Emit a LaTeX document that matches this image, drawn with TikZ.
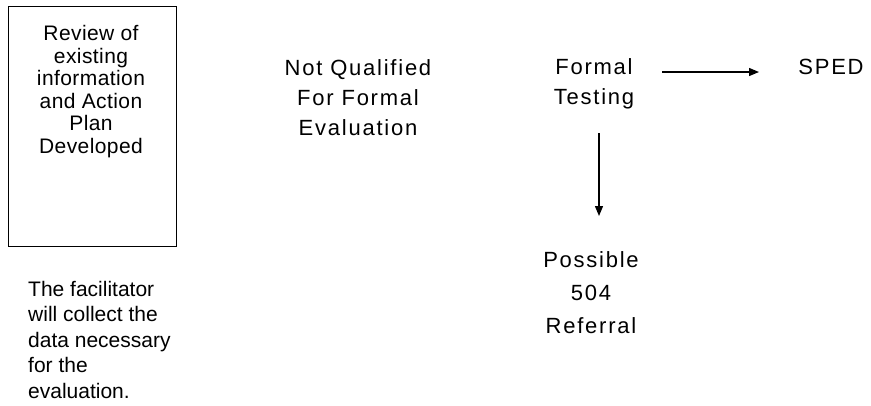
\documentclass[tikz,border=0pt]{standalone}
\usepackage{fontspec}
\setmainfont{Liberation Sans}
\usetikzlibrary{arrows.meta}
\begin{document}
\begin{tikzpicture}[x=1pt,y=-1pt,
  txt/.style={inner sep=0pt,align=center,anchor=north},
  boxtxt/.style={txt,font=\addfontfeature{LetterSpace=2}\fontsize{21}{22.6}\selectfont},
  midtxt/.style={txt,font=\addfontfeature{LetterSpace=8}\fontsize{22}{30}\selectfont},
  arr/.style={line width=1.3pt,-{Triangle[length=10pt,width=8pt]}}]
\useasboundingbox (0,0) rectangle (871,405);
\node[draw,line width=1pt,minimum width=168pt,minimum height=240pt,inner sep=0pt,anchor=north west] (box) at (8,6) {};
\node[boxtxt] (boxt) at (91,25) {Review of\\existing\\information\\and Action\\Plan\\Developed};
\node[inner sep=0pt,align=left,anchor=north west,font=\fontsize{21}{25.5}\selectfont] (fac) at (28,281) {The facilitator\\will collect the\\data necessary\\for the\\evaluation.};
\node[midtxt] (nq) at (358,59) {Not Qualified\\For Formal\\Evaluation};
\node[midtxt] (ft) at (594,58) {Formal\\Testing};
\node[midtxt] (sped) at (831,59) {SPED};
\node[midtxt,font=\addfontfeature{LetterSpace=8}\fontsize{22}{33}\selectfont] (p504) at (591,251) {Possible\\504\\Referral};
\coordinate (r1) at (662,72);
\coordinate (r2) at (759,72);
\coordinate (d1) at (599,133);
\coordinate (d2) at (599,216);
\draw[arr] (r1) -- (r2);
\draw[arr] (d1) -- (d2);
\end{tikzpicture}
\end{document}
